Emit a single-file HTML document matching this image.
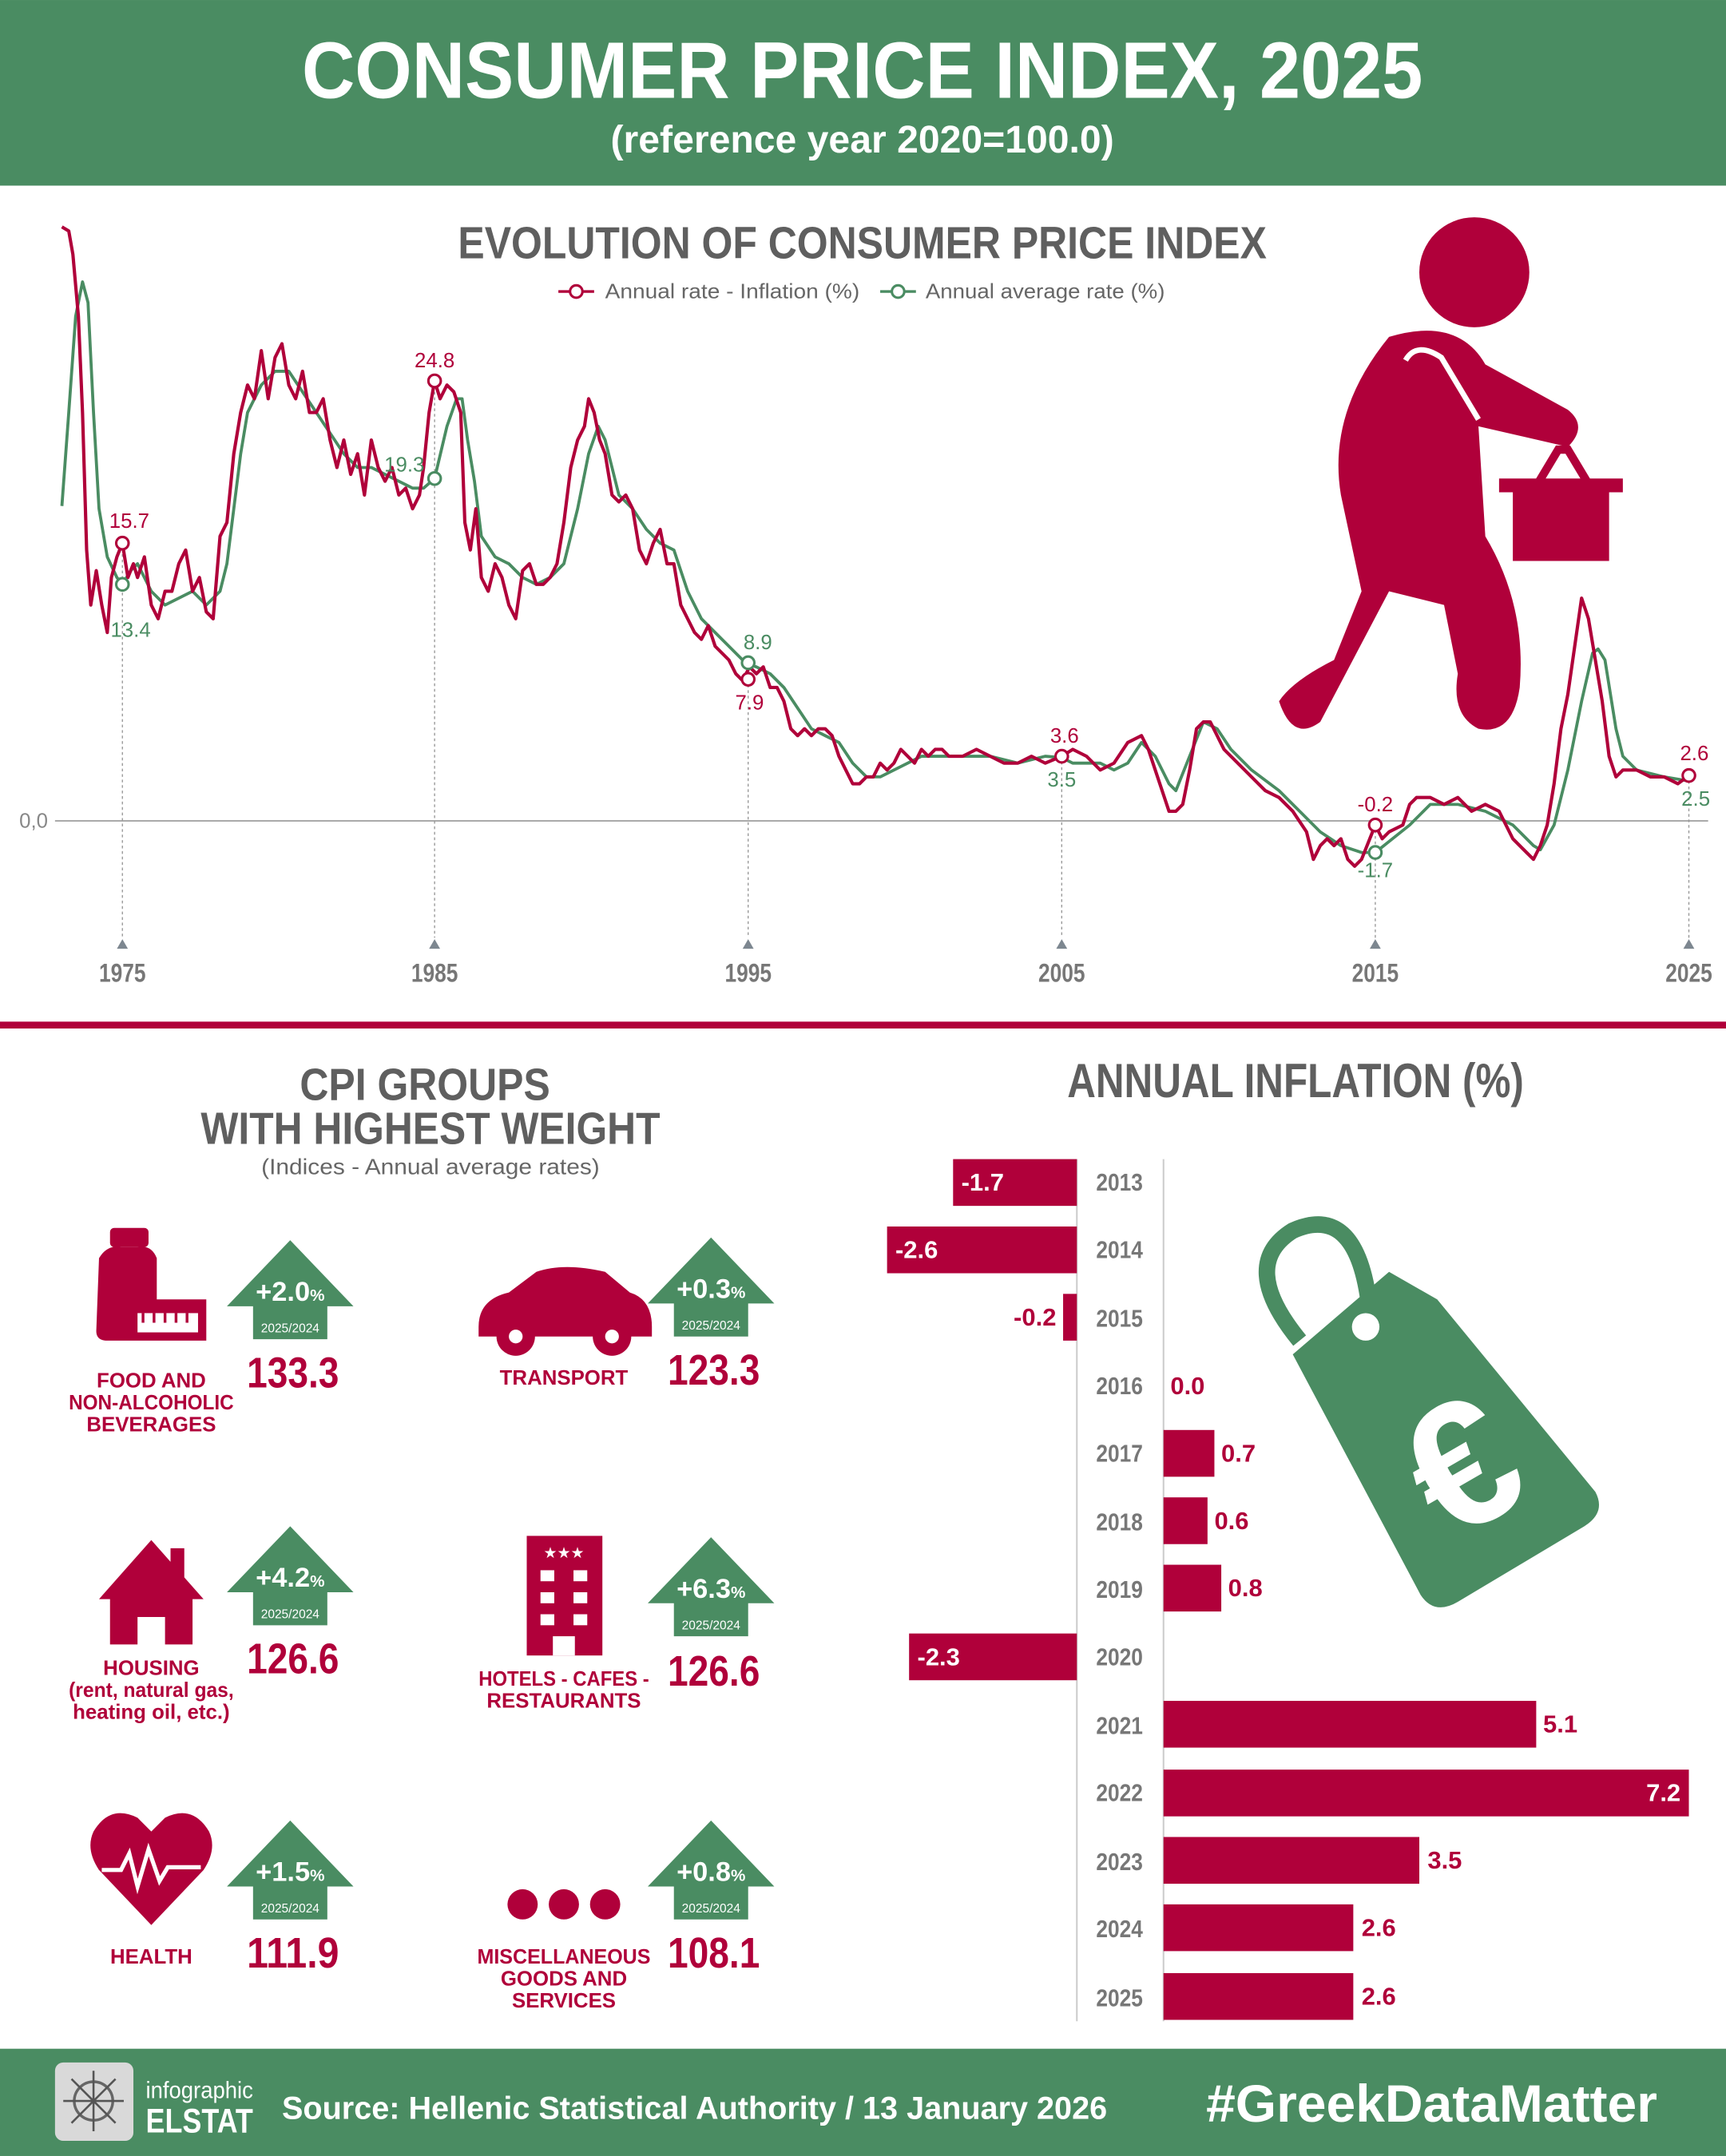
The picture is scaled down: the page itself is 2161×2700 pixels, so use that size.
<!DOCTYPE html>
<html><head><meta charset="utf-8"><style>
html,body{margin:0;padding:0;background:#fff}
svg{display:block}
text{font-family:"Liberation Sans Narrow","Liberation Sans",sans-serif}
</style></head><body>
<svg width="2161" height="2700" viewBox="0 0 1255 1568" xmlns="http://www.w3.org/2000/svg">
<rect width="1255" height="1568" fill="#fff"/>
<rect x="0" y="0" width="1255" height="135" fill="#4a8c62"/>
<text x="627" y="71" text-anchor="middle" fill="#fff" font-size="58" font-weight="bold" textLength="815" lengthAdjust="spacingAndGlyphs">CONSUMER PRICE INDEX, 2025</text>
<text x="627" y="111" text-anchor="middle" fill="#fff" font-size="28" font-weight="bold" textLength="366" lengthAdjust="spacingAndGlyphs">(reference year 2020=100.0)</text>

<text x="627" y="188" text-anchor="middle" fill="#5f5f5f" font-size="33" font-weight="bold" textLength="588" lengthAdjust="spacingAndGlyphs">EVOLUTION OF CONSUMER PRICE INDEX</text>
<line x1="406" y1="212" x2="432" y2="212" stroke="#b0003a" stroke-width="2"/><circle cx="419" cy="212" r="4.5" fill="#fff" stroke="#b0003a" stroke-width="1.8"/>
<text x="440" y="217" fill="#666" font-size="15" textLength="185" lengthAdjust="spacingAndGlyphs">Annual rate - Inflation (%)</text>
<line x1="640" y1="212" x2="666" y2="212" stroke="#4a8c62" stroke-width="2"/><circle cx="653" cy="212" r="4.5" fill="#fff" stroke="#4a8c62" stroke-width="1.8"/>
<text x="673" y="217" fill="#666" font-size="15" textLength="174" lengthAdjust="spacingAndGlyphs">Annual average rate (%)</text>

<line x1="40" y1="597" x2="1242" y2="597" stroke="#aaa" stroke-width="1.2"/>
<text x="14" y="602" fill="#888" font-size="15">0,0</text>
<g stroke="#999" stroke-width="0.8" stroke-dasharray="2,2">
<line x1="89" y1="395" x2="89" y2="682"/><line x1="316" y1="277" x2="316" y2="682"/><line x1="544" y1="482" x2="544" y2="682"/><line x1="772" y1="550" x2="772" y2="682"/><line x1="1000" y1="600" x2="1000" y2="682"/><line x1="1228" y1="564" x2="1228" y2="682"/>
</g>
<g fill="#7d8790">
<path d="M85 690 L89 683 L93 690Z"/><path d="M312 690 L316 683 L320 690Z"/><path d="M540 690 L544 683 L548 690Z"/><path d="M768 690 L772 683 L776 690Z"/><path d="M996 690 L1000 683 L1004 690Z"/><path d="M1224 690 L1228 683 L1232 690Z"/>
</g>
<g fill="#777" font-size="19" font-weight="bold" text-anchor="middle">
<text x="89" y="714" textLength="34" lengthAdjust="spacingAndGlyphs">1975</text><text x="316" y="714" textLength="34" lengthAdjust="spacingAndGlyphs">1985</text><text x="544" y="714" textLength="34" lengthAdjust="spacingAndGlyphs">1995</text><text x="772" y="714" textLength="34" lengthAdjust="spacingAndGlyphs">2005</text><text x="1000" y="714" textLength="34" lengthAdjust="spacingAndGlyphs">2015</text><text x="1228" y="714" textLength="34" lengthAdjust="spacingAndGlyphs">2025</text>
</g>

<polyline fill="none" stroke="#4a8c62" stroke-width="2.2" stroke-linejoin="round" points="45,368 50,300 55,230 60,205 64,220 68,300 72,370 78,405 85,420 89,425 95,415 100,410 110,430 120,440 130,435 140,430 150,440 160,430 165,410 170,370 175,330 180,300 190,280 200,270 210,270 220,285 230,300 240,315 250,330 260,340 270,340 280,345 290,350 300,355 308,355 316,348 325,310 332,290 336,290 340,320 345,350 350,390 360,405 370,410 380,420 390,425 400,420 410,410 420,370 428,330 435,310 440,320 445,340 450,360 460,370 470,385 480,395 490,400 500,430 510,450 520,460 530,470 540,480 544,483 550,485 560,490 570,500 580,515 590,530 600,535 610,540 620,555 630,565 640,565 650,560 660,555 670,550 690,550 720,550 740,555 760,550 772,551 780,555 790,555 800,555 810,560 820,555 830,540 840,550 850,570 855,575 865,550 875,525 885,530 895,545 910,560 930,575 945,590 960,605 975,615 990,620 1000,620 1010,612 1025,600 1040,585 1060,585 1080,590 1100,600 1115,615 1120,618 1130,600 1140,560 1150,510 1158,475 1162,472 1167,480 1175,530 1180,550 1190,560 1210,565 1228,568"/>
<polyline fill="none" stroke="#b0003a" stroke-width="2.4" stroke-linejoin="round" points="45,165 50,168 53,185 57,230 60,300 63,400 66,440 70,415 74,440 78,460 81,420 85,405 89,395 93,420 97,410 100,420 105,405 110,440 115,450 120,430 125,430 130,410 135,400 140,430 145,420 150,445 155,450 160,390 165,380 170,330 175,300 180,280 185,290 190,255 195,290 200,260 205,250 210,280 215,290 220,270 225,300 230,300 235,290 240,320 245,340 250,320 255,345 260,330 265,360 270,320 275,340 280,350 285,340 290,360 295,355 300,370 305,360 308,340 312,300 316,277 320,290 325,280 330,285 335,300 338,380 342,400 346,370 350,420 355,430 360,410 365,420 370,440 375,450 380,415 385,410 390,425 395,425 400,420 405,410 410,380 415,340 420,320 425,310 428,290 432,300 436,320 440,330 445,360 450,365 455,360 460,370 465,400 470,410 475,395 480,385 485,410 490,410 495,440 500,450 505,460 510,465 515,455 520,470 525,475 530,480 535,490 540,495 545,485 550,490 555,485 560,500 565,500 570,510 575,530 580,535 585,530 590,535 595,530 600,530 605,535 610,550 615,560 620,570 625,570 630,565 635,565 640,555 645,560 650,555 655,545 660,550 665,555 670,545 675,550 680,545 685,545 690,550 700,550 710,545 720,550 730,555 740,555 750,550 760,555 772,550 780,545 790,550 800,560 810,555 820,540 830,535 835,545 840,560 845,575 850,590 855,590 860,585 865,560 870,530 875,525 880,525 885,535 890,545 900,555 910,565 920,575 930,580 940,590 950,605 955,625 960,615 965,610 970,615 975,610 980,625 985,630 990,625 1000,600 1005,610 1010,605 1020,600 1025,585 1030,580 1040,580 1050,585 1060,580 1070,590 1080,585 1090,590 1100,610 1110,620 1115,625 1120,615 1125,600 1130,570 1135,530 1140,505 1145,470 1150,435 1155,450 1160,480 1165,510 1170,550 1175,565 1180,560 1190,560 1200,565 1210,565 1220,570 1228,564"/>
<g fill="#fff" stroke-width="1.8">
<circle cx="89" cy="395" r="4.5" stroke="#b0003a"/><circle cx="316" cy="277" r="4.5" stroke="#b0003a"/><circle cx="544" cy="494" r="4.5" stroke="#b0003a"/><circle cx="772" cy="550" r="4.5" stroke="#b0003a"/><circle cx="1000" cy="600" r="4.5" stroke="#b0003a"/><circle cx="1228" cy="564" r="4.5" stroke="#b0003a"/>
<circle cx="89" cy="425" r="4.5" stroke="#4a8c62"/><circle cx="316" cy="348" r="4.5" stroke="#4a8c62"/><circle cx="544" cy="482" r="4.5" stroke="#4a8c62"/><circle cx="1000" cy="620" r="4.5" stroke="#4a8c62"/>
</g>
<g font-size="15" text-anchor="middle">
<text x="94" y="384" fill="#b0003a">15.7</text><text x="316" y="267" fill="#b0003a">24.8</text><text x="545" y="516" fill="#b0003a">7.9</text><text x="774" y="540" fill="#b0003a">3.6</text><text x="1000" y="590" fill="#b0003a">-0.2</text><text x="1232" y="553" fill="#b0003a">2.6</text>
<text x="95" y="463" fill="#4a8c62">13.4</text><text x="294" y="343" fill="#4a8c62">19.3</text><text x="551" y="472" fill="#4a8c62">8.9</text><text x="772" y="572" fill="#4a8c62">3.5</text><text x="1000" y="638" fill="#4a8c62">-1.7</text><text x="1233" y="586" fill="#4a8c62">2.5</text>
</g>

<g fill="#b0003a">
<circle cx="1072" cy="198" r="40"/>
<path d="M1010 245 Q1060 230 1080 265 L1140 298 Q1155 310 1140 325 L1075 310 L1080 390 Q1110 440 1105 500 Q1100 535 1075 530 Q1055 520 1060 490 L1050 440 L1010 430 L960 525 Q940 540 930 510 Q940 495 970 480 L990 430 L975 360 Q965 300 1010 245Z"/>
<path d="M1090 348 L1180 348 L1180 358 L1170 358 L1170 408 L1100 408 L1100 358 L1090 358Z"/>
</g>
<path d="M1118 352 L1133 327 L1140 327 L1155 352" fill="none" stroke="#b0003a" stroke-width="6"/>
<path d="M1022 262 Q1030 248 1048 260 L1075 305" fill="none" stroke="#fff" stroke-width="4"/>

<rect x="0" y="743" width="1255" height="5" fill="#b0003a"/>

<text x="309" y="800" text-anchor="middle" fill="#5f5f5f" font-size="33" font-weight="bold" textLength="182" lengthAdjust="spacingAndGlyphs">CPI GROUPS</text>
<text x="313" y="832" text-anchor="middle" fill="#5f5f5f" font-size="33" font-weight="bold" textLength="334" lengthAdjust="spacingAndGlyphs">WITH HIGHEST WEIGHT</text>
<text x="313" y="854" text-anchor="middle" fill="#666" font-size="16" textLength="246" lengthAdjust="spacingAndGlyphs">(Indices - Annual average rates)</text>

<defs>
<g id="arr"><path d="M-46 48 L0 0 L46 48 L27 48 L27 72 L-27 72 L-27 48Z" fill="#4a8c62"/></g>
</defs>
<g font-weight="bold">
<use href="#arr" x="211" y="902"/><text x="211" y="946" text-anchor="middle" fill="#fff" font-size="20">+2.0<tspan font-size="12">%</tspan></text><text x="211" y="969" text-anchor="middle" fill="#fff" font-size="9" font-weight="normal">2025/2024</text><text x="213" y="1009" text-anchor="middle" fill="#b0003a" font-size="31" textLength="67" lengthAdjust="spacingAndGlyphs">133.3</text>
<use href="#arr" x="517" y="900"/><text x="517" y="944" text-anchor="middle" fill="#fff" font-size="20">+0.3<tspan font-size="12">%</tspan></text><text x="517" y="967" text-anchor="middle" fill="#fff" font-size="9" font-weight="normal">2025/2024</text><text x="519" y="1007" text-anchor="middle" fill="#b0003a" font-size="31" textLength="67" lengthAdjust="spacingAndGlyphs">123.3</text>
<use href="#arr" x="211" y="1110"/><text x="211" y="1154" text-anchor="middle" fill="#fff" font-size="20">+4.2<tspan font-size="12">%</tspan></text><text x="211" y="1177" text-anchor="middle" fill="#fff" font-size="9" font-weight="normal">2025/2024</text><text x="213" y="1217" text-anchor="middle" fill="#b0003a" font-size="31" textLength="67" lengthAdjust="spacingAndGlyphs">126.6</text>
<use href="#arr" x="517" y="1118"/><text x="517" y="1162" text-anchor="middle" fill="#fff" font-size="20">+6.3<tspan font-size="12">%</tspan></text><text x="517" y="1185" text-anchor="middle" fill="#fff" font-size="9" font-weight="normal">2025/2024</text><text x="519" y="1226" text-anchor="middle" fill="#b0003a" font-size="31" textLength="67" lengthAdjust="spacingAndGlyphs">126.6</text>
<use href="#arr" x="211" y="1324"/><text x="211" y="1368" text-anchor="middle" fill="#fff" font-size="20">+1.5<tspan font-size="12">%</tspan></text><text x="211" y="1391" text-anchor="middle" fill="#fff" font-size="9" font-weight="normal">2025/2024</text><text x="213" y="1431" text-anchor="middle" fill="#b0003a" font-size="31" textLength="67" lengthAdjust="spacingAndGlyphs">111.9</text>
<use href="#arr" x="517" y="1324"/><text x="517" y="1368" text-anchor="middle" fill="#fff" font-size="20">+0.8<tspan font-size="12">%</tspan></text><text x="517" y="1391" text-anchor="middle" fill="#fff" font-size="9" font-weight="normal">2025/2024</text><text x="519" y="1431" text-anchor="middle" fill="#b0003a" font-size="31" textLength="67" lengthAdjust="spacingAndGlyphs">108.1</text>
</g>
<g fill="#b0003a" font-size="15" font-weight="bold" text-anchor="middle">
<text x="110" y="1009">FOOD AND</text><text x="110" y="1025" textLength="120" lengthAdjust="spacingAndGlyphs">NON-ALCOHOLIC</text><text x="110" y="1041">BEVERAGES</text>
<text x="410" y="1007">TRANSPORT</text>
<text x="110" y="1218">HOUSING</text><text x="110" y="1234" textLength="120" lengthAdjust="spacingAndGlyphs">(rent, natural gas,</text><text x="110" y="1250">heating oil, etc.)</text>
<text x="410" y="1226" textLength="124" lengthAdjust="spacingAndGlyphs">HOTELS - CAFES -</text><text x="410" y="1242">RESTAURANTS</text>
<text x="110" y="1428">HEALTH</text>
<text x="410" y="1428" textLength="126" lengthAdjust="spacingAndGlyphs">MISCELLANEOUS</text><text x="410" y="1444">GOODS AND</text><text x="410" y="1460">SERVICES</text>
</g>
<g fill="#b0003a">
<rect x="80" y="893" width="28" height="14" rx="3"/><path d="M72 915 Q78 905 88 907 L100 907 Q110 905 114 915 L114 945 L150 945 L150 975 L78 975 Q70 975 70 968Z"/>
<path d="M348 965 Q348 945 370 940 L390 925 Q410 918 440 925 L458 940 Q474 945 474 965 L474 972 L348 972Z"/>
<circle cx="375" cy="972" r="14"/><circle cx="445" cy="972" r="14"/>
<path d="M72 1163 L110 1120 L148 1163 L140 1163 L140 1196 L120 1196 L120 1176 L100 1176 L100 1196 L80 1196 L80 1163Z"/><rect x="124" y="1126" width="10" height="22"/>
<rect x="383" y="1117" width="55" height="87"/>
<path d="M110 1400 L72 1360 Q62 1345 68 1332 Q80 1312 100 1322 L110 1332 L120 1322 Q140 1312 152 1332 Q158 1345 148 1360Z"/>
<circle cx="380" cy="1385" r="11"/><circle cx="410" cy="1385" r="11"/><circle cx="440" cy="1385" r="11"/>
</g>
<g fill="#fff">
<rect x="100" y="955" width="44" height="14"/>
<circle cx="375" cy="972" r="5"/><circle cx="445" cy="972" r="5"/>
<rect x="393" y="1142" width="10" height="8"/><rect x="417" y="1142" width="10" height="8"/><rect x="393" y="1158" width="10" height="8"/><rect x="417" y="1158" width="10" height="8"/><rect x="393" y="1174" width="10" height="8"/><rect x="417" y="1174" width="10" height="8"/><rect x="402" y="1190" width="16" height="14"/>
<text x="410" y="1133" font-size="11" text-anchor="middle">★★★</text>
</g>
<path d="M104 962 L104 955 M112 962 L112 955 M120 962 L120 955 M128 962 L128 955 M136 962 L136 955" stroke="#b0003a" stroke-width="2"/>
<path d="M74 1360 L88 1360 L94 1348 L100 1372 L108 1345 L116 1368 L122 1358 L146 1358" fill="none" stroke="#fff" stroke-width="3"/>

<text x="942" y="798" text-anchor="middle" fill="#5f5f5f" font-size="35" font-weight="bold" textLength="332" lengthAdjust="spacingAndGlyphs">ANNUAL INFLATION (%)</text>
<line x1="783" y1="843" x2="783" y2="1470" stroke="#ccc" stroke-width="1.2"/>
<line x1="846" y1="843" x2="846" y2="1470" stroke="#ccc" stroke-width="1.2"/>
<g fill="#4a8c62">
<path d="M940 985 L1010 925 L1045 945 L1160 1085 Q1168 1100 1152 1110 L1060 1165 Q1043 1175 1033 1160 Z"/>
</g>
<circle cx="993" cy="965" r="10" fill="#fff"/>
<path d="M945 975 Q900 920 940 895 Q985 875 995 945" fill="none" stroke="#4a8c62" stroke-width="12"/>
<text x="1065" y="1110" text-anchor="middle" fill="#fff" font-size="130" font-weight="bold" transform="rotate(-30 1065 1070)" font-family="Liberation Sans, sans-serif">€</text>

<g fill="#b0003a">
<rect x="693" y="843" width="90" height="34"/>
<rect x="645" y="892" width="138" height="34"/>
<rect x="773" y="941" width="10" height="34"/>
<rect x="846" y="1040" width="37" height="34"/>
<rect x="846" y="1089" width="32" height="34"/>
<rect x="846" y="1138" width="42" height="34"/>
<rect x="661" y="1188" width="122" height="34"/>
<rect x="846" y="1237" width="271" height="34"/>
<rect x="846" y="1287" width="382" height="34"/>
<rect x="846" y="1336" width="186" height="34"/>
<rect x="846" y="1385" width="138" height="34"/>
<rect x="846" y="1435" width="138" height="34"/>
</g>
<g font-size="18" font-weight="bold">
<text x="699" y="866" fill="#fff">-1.7</text>
<text x="651" y="915" fill="#fff">-2.6</text>
<text x="768" y="964" fill="#b0003a" text-anchor="end">-0.2</text>
<text x="851" y="1014" fill="#b0003a">0.0</text>
<text x="888" y="1063" fill="#b0003a">0.7</text>
<text x="883" y="1112" fill="#b0003a">0.6</text>
<text x="893" y="1161" fill="#b0003a">0.8</text>
<text x="667" y="1211" fill="#fff">-2.3</text>
<text x="1122" y="1260" fill="#b0003a">5.1</text>
<text x="1222" y="1310" fill="#fff" text-anchor="end">7.2</text>
<text x="1038" y="1359" fill="#b0003a">3.5</text>
<text x="990" y="1408" fill="#b0003a">2.6</text>
<text x="990" y="1458" fill="#b0003a">2.6</text>
</g>
<g font-size="18" font-weight="bold" fill="#777" text-anchor="middle">
<text x="814" y="866" textLength="34" lengthAdjust="spacingAndGlyphs">2013</text><text x="814" y="915" textLength="34" lengthAdjust="spacingAndGlyphs">2014</text><text x="814" y="965" textLength="34" lengthAdjust="spacingAndGlyphs">2015</text><text x="814" y="1014" textLength="34" lengthAdjust="spacingAndGlyphs">2016</text><text x="814" y="1063" textLength="34" lengthAdjust="spacingAndGlyphs">2017</text><text x="814" y="1113" textLength="34" lengthAdjust="spacingAndGlyphs">2018</text><text x="814" y="1162" textLength="34" lengthAdjust="spacingAndGlyphs">2019</text><text x="814" y="1211" textLength="34" lengthAdjust="spacingAndGlyphs">2020</text><text x="814" y="1261" textLength="34" lengthAdjust="spacingAndGlyphs">2021</text><text x="814" y="1310" textLength="34" lengthAdjust="spacingAndGlyphs">2022</text><text x="814" y="1360" textLength="34" lengthAdjust="spacingAndGlyphs">2023</text><text x="814" y="1409" textLength="34" lengthAdjust="spacingAndGlyphs">2024</text><text x="814" y="1459" textLength="34" lengthAdjust="spacingAndGlyphs">2025</text>
</g>

<rect x="0" y="1490" width="1255" height="78" fill="#4a8c62"/>
<rect x="40" y="1500" width="57" height="57" rx="6" fill="#d9d9d9"/>
<circle cx="68" cy="1528" r="14" fill="none" stroke="#666" stroke-width="2"/>
<path d="M68 1506 L68 1550 M46 1528 L90 1528 M52 1512 L84 1544 M84 1512 L52 1544" stroke="#555" stroke-width="1.5"/>
<text x="106" y="1526" fill="#fff" font-size="17" textLength="78" lengthAdjust="spacingAndGlyphs">infographic</text>
<text x="106" y="1551" fill="#fff" font-size="25" font-weight="bold" textLength="78" lengthAdjust="spacingAndGlyphs">ELSTAT</text>
<text x="205" y="1541" fill="#fff" font-size="23" font-weight="bold" font-family="Liberation Sans, sans-serif" textLength="600" lengthAdjust="spacingAndGlyphs">Source: Hellenic Statistical Authority / 13 January 2026</text>
<text x="1205" y="1543" text-anchor="end" fill="#fff" font-size="38" font-weight="bold" font-family="Liberation Sans, sans-serif" textLength="328" lengthAdjust="spacingAndGlyphs">#GreekDataMatter</text>
</svg>
</body></html>
